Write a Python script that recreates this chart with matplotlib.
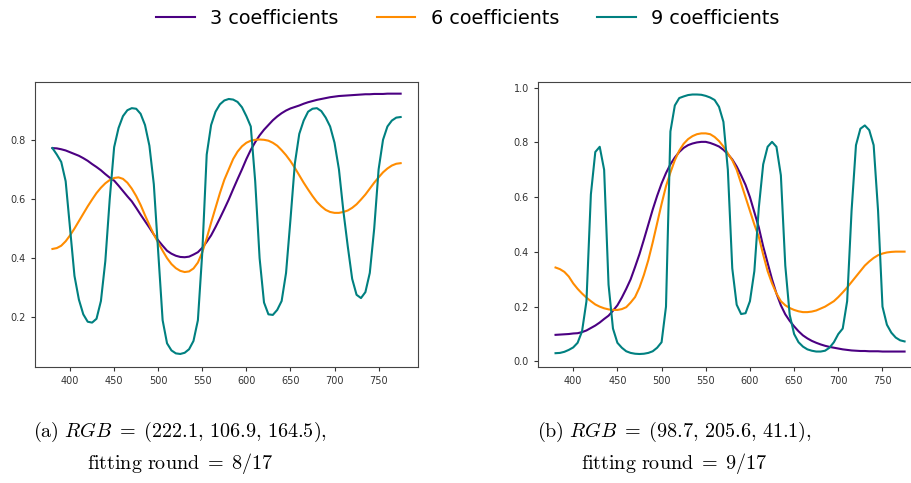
import numpy as np
import matplotlib
matplotlib.use("Agg")
import matplotlib.pyplot as plt

plt.rcParams['mathtext.fontset'] = 'cm'

# wavelengths (nm), sampled every 5 nm
wl = np.arange(380, 780, 5)

# (a) RGB = (222.1, 106.9, 164.5)
a_3 = [0.772, 0.771, 0.768, 0.764, 0.758, 0.752, 0.746, 0.738, 0.729, 0.718,
       0.708, 0.697, 0.684, 0.672, 0.662, 0.645, 0.627, 0.609, 0.592, 0.570,
       0.547, 0.525, 0.503, 0.480, 0.460, 0.442, 0.425, 0.415, 0.408, 0.404,
       0.403, 0.405, 0.412, 0.420, 0.435, 0.455, 0.477, 0.505, 0.535, 0.566,
       0.598, 0.633, 0.667, 0.700, 0.735, 0.766, 0.792, 0.815, 0.834, 0.850,
       0.866, 0.879, 0.890, 0.899, 0.906, 0.911, 0.916, 0.922, 0.927, 0.931,
       0.935, 0.938, 0.941, 0.944, 0.946, 0.948, 0.949, 0.950, 0.951, 0.952,
       0.953, 0.954, 0.954, 0.955, 0.955, 0.955, 0.956, 0.956, 0.956, 0.956]
a_6 = [0.431, 0.434, 0.442, 0.457, 0.477, 0.500, 0.525, 0.550, 0.575, 0.598,
       0.620, 0.638, 0.653, 0.664, 0.671, 0.673, 0.668, 0.655, 0.635, 0.610,
       0.580, 0.545, 0.512, 0.480, 0.452, 0.425, 0.400, 0.380, 0.366, 0.357,
       0.353, 0.355, 0.365, 0.385, 0.420, 0.467, 0.520, 0.570, 0.620, 0.665,
       0.700, 0.735, 0.760, 0.778, 0.790, 0.797, 0.800, 0.801, 0.800, 0.797,
       0.790, 0.780, 0.765, 0.748, 0.728, 0.705, 0.680, 0.655, 0.632, 0.610,
       0.590, 0.575, 0.563, 0.556, 0.553, 0.553, 0.556, 0.561, 0.570, 0.582,
       0.598, 0.615, 0.635, 0.655, 0.673, 0.690, 0.703, 0.713, 0.719, 0.721]
a_9 = [0.772, 0.750, 0.725, 0.660, 0.500, 0.340, 0.260, 0.210, 0.185, 0.182,
       0.195, 0.255, 0.390, 0.600, 0.775, 0.840, 0.880, 0.900, 0.907, 0.905,
       0.888, 0.850, 0.780, 0.650, 0.420, 0.190, 0.112, 0.088, 0.078, 0.076,
       0.080, 0.092, 0.120, 0.190, 0.420, 0.750, 0.850, 0.895, 0.920, 0.933,
       0.938, 0.936, 0.928, 0.910, 0.880, 0.845, 0.660, 0.400, 0.250, 0.210,
       0.208, 0.225, 0.255, 0.350, 0.530, 0.720, 0.820, 0.865, 0.895, 0.905,
       0.907, 0.897, 0.875, 0.845, 0.790, 0.700, 0.560, 0.440, 0.330, 0.276,
       0.265, 0.285, 0.350, 0.500, 0.700, 0.800, 0.845, 0.865, 0.875, 0.877]

# (b) RGB = (98.7, 205.6, 41.1)
b_3 = [0.097, 0.098, 0.099, 0.100, 0.102, 0.103, 0.107, 0.113, 0.122, 0.131,
       0.142, 0.155, 0.167, 0.185, 0.205, 0.233, 0.265, 0.300, 0.345, 0.392,
       0.445, 0.500, 0.555, 0.605, 0.650, 0.688, 0.720, 0.745, 0.765, 0.780,
       0.790, 0.796, 0.800, 0.802, 0.802, 0.798, 0.792, 0.785, 0.773, 0.757,
       0.738, 0.712, 0.680, 0.645, 0.600, 0.545, 0.490, 0.420, 0.360, 0.300,
       0.248, 0.205, 0.172, 0.148, 0.128, 0.110, 0.095, 0.084, 0.075, 0.068,
       0.062, 0.057, 0.053, 0.050, 0.047, 0.044, 0.042, 0.040, 0.039, 0.038,
       0.038, 0.037, 0.037, 0.037, 0.036, 0.036, 0.036, 0.036, 0.036, 0.036]
b_6 = [0.343, 0.337, 0.327, 0.310, 0.285, 0.265, 0.248, 0.233, 0.220, 0.208,
       0.200, 0.194, 0.190, 0.188, 0.188, 0.191, 0.198, 0.215, 0.235, 0.270,
       0.316, 0.370, 0.435, 0.505, 0.575, 0.640, 0.690, 0.735, 0.770, 0.795,
       0.812, 0.823, 0.830, 0.833, 0.833, 0.830, 0.820, 0.805, 0.785, 0.760,
       0.735, 0.700, 0.650, 0.600, 0.550, 0.500, 0.455, 0.390, 0.330, 0.285,
       0.248, 0.220, 0.205, 0.195, 0.188, 0.183, 0.180, 0.180, 0.182, 0.186,
       0.193, 0.200, 0.210, 0.220, 0.235, 0.252, 0.270, 0.290, 0.310, 0.330,
       0.350, 0.365, 0.378, 0.388, 0.394, 0.398, 0.400, 0.401, 0.401, 0.401]
b_9 = [0.030, 0.031, 0.035, 0.042, 0.051, 0.068, 0.110, 0.220, 0.610, 0.765,
       0.784, 0.700, 0.280, 0.120, 0.068, 0.050, 0.037, 0.031, 0.028, 0.027,
       0.028, 0.031, 0.037, 0.050, 0.070, 0.200, 0.840, 0.935, 0.962, 0.968,
       0.973, 0.975, 0.975, 0.974, 0.970, 0.964, 0.955, 0.930, 0.875, 0.700,
       0.340, 0.207, 0.173, 0.176, 0.220, 0.330, 0.560, 0.720, 0.784, 0.802,
       0.784, 0.680, 0.350, 0.170, 0.100, 0.070, 0.054, 0.044, 0.039, 0.036,
       0.036, 0.039, 0.050, 0.070, 0.100, 0.120, 0.220, 0.550, 0.790, 0.850,
       0.862, 0.845, 0.790, 0.550, 0.200, 0.134, 0.105, 0.087, 0.077, 0.073]

labels = ["3 coefficients", "6 coefficients", "9 coefficients"]
colors = ["indigo", "darkorange", "teal"]

captions = [
    (r"$\mathrm{(a)}\ RGB\;=\;(222.1,\,106.9,\,164.5),$", r"$\mathrm{fitting\ round}\;=\;8/17$"),
    (r"$\mathrm{(b)}\ RGB\;=\;(98.7,\,205.6,\,41.1),$", r"$\mathrm{fitting\ round}\;=\;9/17$"),
]

fig = plt.figure(figsize=(9.12, 4.83), dpi=100)
ax1 = fig.add_axes([0.0384, 0.2402, 0.420, 0.591])
ax2 = fig.add_axes([0.590, 0.2402, 0.421, 0.591])

for ax, series in [(ax1, (a_3, a_6, a_9)), (ax2, (b_3, b_6, b_9))]:
    for ys, c, lab in zip(series, colors, labels):
        ax.plot(wl, ys, color=c, lw=1.5, label=lab)
    ax.set_xticks([400, 450, 500, 550, 600, 650, 700, 750])
    ax.tick_params(labelsize=7, colors="#333333", length=3)
    for s in ax.spines.values():
        s.set_color("#444444")

ax1.set_ylim(0.032, 0.997)
ax2.set_yticks([0.0, 0.2, 0.4, 0.6, 0.8, 1.0])
# right plot runs past the picture edge
ax2.spines["right"].set_visible(False)

handles, labs = ax1.get_legend_handles_labels()
fig.legend(handles, labs, loc="upper center", bbox_to_anchor=(0.513, 1.018),
           ncol=3, frameon=False, fontsize=13.8, handlelength=2.0)

fig.text(180 / 912, 0.106, captions[0][0], ha="center", va="center", fontsize=14.5)
fig.text(180 / 912, 0.041, captions[0][1], ha="center", va="center", fontsize=14.5)
fig.text(674 / 912, 0.106, captions[1][0], ha="center", va="center", fontsize=14.5)
fig.text(674 / 912, 0.041, captions[1][1], ha="center", va="center", fontsize=14.5)

fig.savefig("out.png", dpi=100)
